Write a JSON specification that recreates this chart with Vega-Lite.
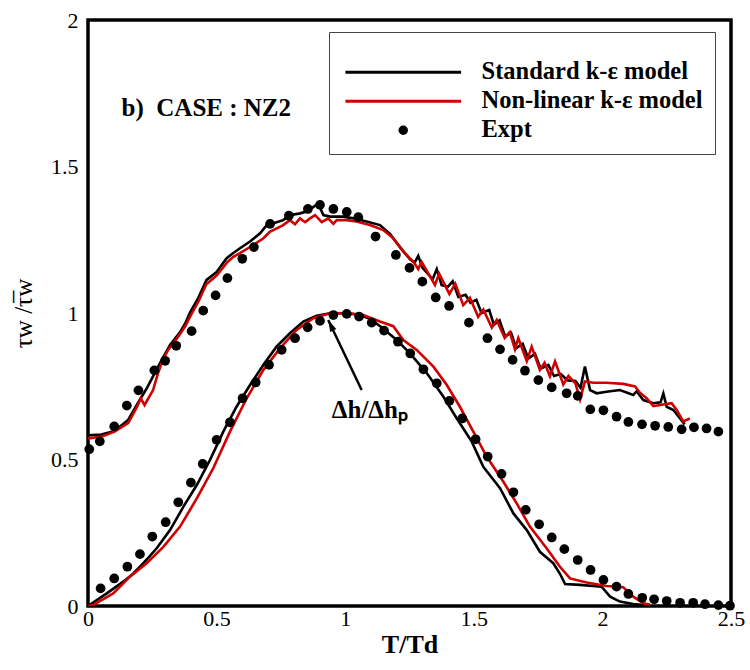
{
  "$schema": "https://vega.github.io/schema/vega-lite/v6.json",
  "width": 643,
  "height": 586,
  "autosize": {"type": "none"},
  "padding": {"left": 88, "top": 20, "right": 19, "bottom": 64},
  "background": "white",
  "config": {
    "font": "Liberation Serif",
    "view": {"stroke": "black", "strokeWidth": 3.5},
    "axis": {
      "domain": false,
      "grid": false,
      "ticks": false,
      "labelFont": "Liberation Serif",
      "labelFontSize": 22,
      "labelColor": "black",
      "labelFlush": false,
      "labelOverlap": false,
      "titleFont": "Liberation Serif",
      "titleColor": "black"
    }
  },
  "datasets": {
    "lines": [
      {"s": "Standard k-ε model", "c": "u", "x": 0, "y": 0.583},
      {"s": "Standard k-ε model", "c": "u", "x": 0.052, "y": 0.585},
      {"s": "Standard k-ε model", "c": "u", "x": 0.103, "y": 0.597},
      {"s": "Standard k-ε model", "c": "u", "x": 0.156, "y": 0.635},
      {"s": "Standard k-ε model", "c": "u", "x": 0.201, "y": 0.703},
      {"s": "Standard k-ε model", "c": "u", "x": 0.23, "y": 0.745},
      {"s": "Standard k-ε model", "c": "u", "x": 0.259, "y": 0.794},
      {"s": "Standard k-ε model", "c": "u", "x": 0.29, "y": 0.845},
      {"s": "Standard k-ε model", "c": "u", "x": 0.319, "y": 0.891},
      {"s": "Standard k-ε model", "c": "u", "x": 0.358, "y": 0.935},
      {"s": "Standard k-ε model", "c": "u", "x": 0.38, "y": 0.968},
      {"s": "Standard k-ε model", "c": "u", "x": 0.397, "y": 1.002},
      {"s": "Standard k-ε model", "c": "u", "x": 0.429, "y": 1.052},
      {"s": "Standard k-ε model", "c": "u", "x": 0.461, "y": 1.113},
      {"s": "Standard k-ε model", "c": "u", "x": 0.5, "y": 1.14},
      {"s": "Standard k-ε model", "c": "u", "x": 0.539, "y": 1.187},
      {"s": "Standard k-ε model", "c": "u", "x": 0.565, "y": 1.205},
      {"s": "Standard k-ε model", "c": "u", "x": 0.591, "y": 1.221},
      {"s": "Standard k-ε model", "c": "u", "x": 0.63, "y": 1.244},
      {"s": "Standard k-ε model", "c": "u", "x": 0.669, "y": 1.272},
      {"s": "Standard k-ε model", "c": "u", "x": 0.695, "y": 1.3},
      {"s": "Standard k-ε model", "c": "u", "x": 0.721, "y": 1.306},
      {"s": "Standard k-ε model", "c": "u", "x": 0.759, "y": 1.317},
      {"s": "Standard k-ε model", "c": "u", "x": 0.785, "y": 1.334},
      {"s": "Standard k-ε model", "c": "u", "x": 0.824, "y": 1.34},
      {"s": "Standard k-ε model", "c": "u", "x": 0.85, "y": 1.346},
      {"s": "Standard k-ε model", "c": "u", "x": 0.869, "y": 1.357},
      {"s": "Standard k-ε model", "c": "u", "x": 0.895, "y": 1.374},
      {"s": "Standard k-ε model", "c": "u", "x": 0.915, "y": 1.334},
      {"s": "Standard k-ε model", "c": "u", "x": 0.941, "y": 1.329},
      {"s": "Standard k-ε model", "c": "u", "x": 0.993, "y": 1.329},
      {"s": "Standard k-ε model", "c": "u", "x": 1.032, "y": 1.323},
      {"s": "Standard k-ε model", "c": "u", "x": 1.083, "y": 1.312},
      {"s": "Standard k-ε model", "c": "u", "x": 1.135, "y": 1.3},
      {"s": "Standard k-ε model", "c": "u", "x": 1.174, "y": 1.27},
      {"s": "Standard k-ε model", "c": "u", "x": 1.213, "y": 1.225},
      {"s": "Standard k-ε model", "c": "u", "x": 1.252, "y": 1.183},
      {"s": "Standard k-ε model", "c": "u", "x": 1.27, "y": 1.172},
      {"s": "Standard k-ε model", "c": "u", "x": 1.284, "y": 1.195},
      {"s": "Standard k-ε model", "c": "u", "x": 1.3, "y": 1.155},
      {"s": "Standard k-ε model", "c": "u", "x": 1.34, "y": 1.115},
      {"s": "Standard k-ε model", "c": "u", "x": 1.356, "y": 1.15},
      {"s": "Standard k-ε model", "c": "u", "x": 1.375, "y": 1.095},
      {"s": "Standard k-ε model", "c": "u", "x": 1.4, "y": 1.09},
      {"s": "Standard k-ε model", "c": "u", "x": 1.418, "y": 1.108},
      {"s": "Standard k-ε model", "c": "u", "x": 1.44, "y": 1.055},
      {"s": "Standard k-ε model", "c": "u", "x": 1.468, "y": 1.062},
      {"s": "Standard k-ε model", "c": "u", "x": 1.487, "y": 1.035},
      {"s": "Standard k-ε model", "c": "u", "x": 1.51, "y": 1.045},
      {"s": "Standard k-ε model", "c": "u", "x": 1.53, "y": 1.0},
      {"s": "Standard k-ε model", "c": "u", "x": 1.56, "y": 1.01},
      {"s": "Standard k-ε model", "c": "u", "x": 1.578, "y": 0.96},
      {"s": "Standard k-ε model", "c": "u", "x": 1.6, "y": 0.975},
      {"s": "Standard k-ε model", "c": "u", "x": 1.622, "y": 0.92},
      {"s": "Standard k-ε model", "c": "u", "x": 1.645, "y": 0.932},
      {"s": "Standard k-ε model", "c": "u", "x": 1.665, "y": 0.88},
      {"s": "Standard k-ε model", "c": "u", "x": 1.69, "y": 0.895},
      {"s": "Standard k-ε model", "c": "u", "x": 1.712, "y": 0.845},
      {"s": "Standard k-ε model", "c": "u", "x": 1.738, "y": 0.86},
      {"s": "Standard k-ε model", "c": "u", "x": 1.76, "y": 0.81},
      {"s": "Standard k-ε model", "c": "u", "x": 1.79, "y": 0.823},
      {"s": "Standard k-ε model", "c": "u", "x": 1.812, "y": 0.785},
      {"s": "Standard k-ε model", "c": "u", "x": 1.838, "y": 0.792},
      {"s": "Standard k-ε model", "c": "u", "x": 1.865, "y": 0.77},
      {"s": "Standard k-ε model", "c": "u", "x": 1.895, "y": 0.768},
      {"s": "Standard k-ε model", "c": "u", "x": 1.915, "y": 0.745},
      {"s": "Standard k-ε model", "c": "u", "x": 1.932, "y": 0.817},
      {"s": "Standard k-ε model", "c": "u", "x": 1.952, "y": 0.737},
      {"s": "Standard k-ε model", "c": "u", "x": 1.978, "y": 0.726},
      {"s": "Standard k-ε model", "c": "u", "x": 2.016, "y": 0.731},
      {"s": "Standard k-ε model", "c": "u", "x": 2.068, "y": 0.737},
      {"s": "Standard k-ε model", "c": "u", "x": 2.12, "y": 0.72},
      {"s": "Standard k-ε model", "c": "u", "x": 2.133, "y": 0.733},
      {"s": "Standard k-ε model", "c": "u", "x": 2.159, "y": 0.703},
      {"s": "Standard k-ε model", "c": "u", "x": 2.198, "y": 0.692},
      {"s": "Standard k-ε model", "c": "u", "x": 2.226, "y": 0.695},
      {"s": "Standard k-ε model", "c": "u", "x": 2.237, "y": 0.725},
      {"s": "Standard k-ε model", "c": "u", "x": 2.25, "y": 0.68},
      {"s": "Standard k-ε model", "c": "u", "x": 2.276, "y": 0.669},
      {"s": "Standard k-ε model", "c": "u", "x": 2.302, "y": 0.64},
      {"s": "Standard k-ε model", "c": "u", "x": 2.32, "y": 0.62},

      {"s": "Non-linear k-ε model", "c": "u", "x": 0, "y": 0.572},
      {"s": "Non-linear k-ε model", "c": "u", "x": 0.052, "y": 0.578},
      {"s": "Non-linear k-ε model", "c": "u", "x": 0.103, "y": 0.595},
      {"s": "Non-linear k-ε model", "c": "u", "x": 0.156, "y": 0.624},
      {"s": "Non-linear k-ε model", "c": "u", "x": 0.188, "y": 0.675},
      {"s": "Non-linear k-ε model", "c": "u", "x": 0.205, "y": 0.709},
      {"s": "Non-linear k-ε model", "c": "u", "x": 0.22, "y": 0.686},
      {"s": "Non-linear k-ε model", "c": "u", "x": 0.253, "y": 0.737},
      {"s": "Non-linear k-ε model", "c": "u", "x": 0.272, "y": 0.794},
      {"s": "Non-linear k-ε model", "c": "u", "x": 0.29, "y": 0.838},
      {"s": "Non-linear k-ε model", "c": "u", "x": 0.312, "y": 0.875},
      {"s": "Non-linear k-ε model", "c": "u", "x": 0.335, "y": 0.9},
      {"s": "Non-linear k-ε model", "c": "u", "x": 0.358, "y": 0.928},
      {"s": "Non-linear k-ε model", "c": "u", "x": 0.38, "y": 0.958},
      {"s": "Non-linear k-ε model", "c": "u", "x": 0.4, "y": 0.993},
      {"s": "Non-linear k-ε model", "c": "u", "x": 0.43, "y": 1.04},
      {"s": "Non-linear k-ε model", "c": "u", "x": 0.46, "y": 1.098},
      {"s": "Non-linear k-ε model", "c": "u", "x": 0.5, "y": 1.128},
      {"s": "Non-linear k-ε model", "c": "u", "x": 0.54, "y": 1.172},
      {"s": "Non-linear k-ε model", "c": "u", "x": 0.565, "y": 1.192},
      {"s": "Non-linear k-ε model", "c": "u", "x": 0.591, "y": 1.204},
      {"s": "Non-linear k-ε model", "c": "u", "x": 0.643, "y": 1.232},
      {"s": "Non-linear k-ε model", "c": "u", "x": 0.682, "y": 1.255},
      {"s": "Non-linear k-ε model", "c": "u", "x": 0.708, "y": 1.278},
      {"s": "Non-linear k-ε model", "c": "u", "x": 0.734, "y": 1.289},
      {"s": "Non-linear k-ε model", "c": "u", "x": 0.759, "y": 1.3},
      {"s": "Non-linear k-ε model", "c": "u", "x": 0.785, "y": 1.317},
      {"s": "Non-linear k-ε model", "c": "u", "x": 0.805, "y": 1.303},
      {"s": "Non-linear k-ε model", "c": "u", "x": 0.824, "y": 1.323},
      {"s": "Non-linear k-ε model", "c": "u", "x": 0.844, "y": 1.31},
      {"s": "Non-linear k-ε model", "c": "u", "x": 0.863, "y": 1.323},
      {"s": "Non-linear k-ε model", "c": "u", "x": 0.883, "y": 1.334},
      {"s": "Non-linear k-ε model", "c": "u", "x": 0.909, "y": 1.31},
      {"s": "Non-linear k-ε model", "c": "u", "x": 0.934, "y": 1.323},
      {"s": "Non-linear k-ε model", "c": "u", "x": 0.954, "y": 1.304},
      {"s": "Non-linear k-ε model", "c": "u", "x": 0.967, "y": 1.317},
      {"s": "Non-linear k-ε model", "c": "u", "x": 1.006, "y": 1.317},
      {"s": "Non-linear k-ε model", "c": "u", "x": 1.044, "y": 1.312},
      {"s": "Non-linear k-ε model", "c": "u", "x": 1.096, "y": 1.3},
      {"s": "Non-linear k-ε model", "c": "u", "x": 1.148, "y": 1.283},
      {"s": "Non-linear k-ε model", "c": "u", "x": 1.187, "y": 1.255},
      {"s": "Non-linear k-ε model", "c": "u", "x": 1.226, "y": 1.209},
      {"s": "Non-linear k-ε model", "c": "u", "x": 1.265, "y": 1.175},
      {"s": "Non-linear k-ε model", "c": "u", "x": 1.284, "y": 1.15},
      {"s": "Non-linear k-ε model", "c": "u", "x": 1.297, "y": 1.175},
      {"s": "Non-linear k-ε model", "c": "u", "x": 1.349, "y": 1.096},
      {"s": "Non-linear k-ε model", "c": "u", "x": 1.365, "y": 1.135},
      {"s": "Non-linear k-ε model", "c": "u", "x": 1.405, "y": 1.065},
      {"s": "Non-linear k-ε model", "c": "u", "x": 1.428, "y": 1.1},
      {"s": "Non-linear k-ε model", "c": "u", "x": 1.459, "y": 1.027},
      {"s": "Non-linear k-ε model", "c": "u", "x": 1.485, "y": 1.052},
      {"s": "Non-linear k-ε model", "c": "u", "x": 1.517, "y": 0.987},
      {"s": "Non-linear k-ε model", "c": "u", "x": 1.537, "y": 1.012},
      {"s": "Non-linear k-ε model", "c": "u", "x": 1.57, "y": 0.95},
      {"s": "Non-linear k-ε model", "c": "u", "x": 1.589, "y": 0.976},
      {"s": "Non-linear k-ε model", "c": "u", "x": 1.62, "y": 0.915},
      {"s": "Non-linear k-ε model", "c": "u", "x": 1.64, "y": 0.935},
      {"s": "Non-linear k-ε model", "c": "u", "x": 1.66, "y": 0.876},
      {"s": "Non-linear k-ε model", "c": "u", "x": 1.673, "y": 0.914},
      {"s": "Non-linear k-ε model", "c": "u", "x": 1.706, "y": 0.836},
      {"s": "Non-linear k-ε model", "c": "u", "x": 1.725, "y": 0.885},
      {"s": "Non-linear k-ε model", "c": "u", "x": 1.757, "y": 0.806},
      {"s": "Non-linear k-ε model", "c": "u", "x": 1.775, "y": 0.83},
      {"s": "Non-linear k-ε model", "c": "u", "x": 1.796, "y": 0.784},
      {"s": "Non-linear k-ε model", "c": "u", "x": 1.816, "y": 0.835},
      {"s": "Non-linear k-ε model", "c": "u", "x": 1.848, "y": 0.756},
      {"s": "Non-linear k-ε model", "c": "u", "x": 1.868, "y": 0.785},
      {"s": "Non-linear k-ε model", "c": "u", "x": 1.895, "y": 0.76},
      {"s": "Non-linear k-ε model", "c": "u", "x": 1.913, "y": 0.705},
      {"s": "Non-linear k-ε model", "c": "u", "x": 1.932, "y": 0.766},
      {"s": "Non-linear k-ε model", "c": "u", "x": 1.965, "y": 0.762},
      {"s": "Non-linear k-ε model", "c": "u", "x": 2.016, "y": 0.762},
      {"s": "Non-linear k-ε model", "c": "u", "x": 2.081, "y": 0.758},
      {"s": "Non-linear k-ε model", "c": "u", "x": 2.127, "y": 0.749},
      {"s": "Non-linear k-ε model", "c": "u", "x": 2.146, "y": 0.728},
      {"s": "Non-linear k-ε model", "c": "u", "x": 2.172, "y": 0.709},
      {"s": "Non-linear k-ε model", "c": "u", "x": 2.198, "y": 0.682},
      {"s": "Non-linear k-ε model", "c": "u", "x": 2.224, "y": 0.686},
      {"s": "Non-linear k-ε model", "c": "u", "x": 2.269, "y": 0.692},
      {"s": "Non-linear k-ε model", "c": "u", "x": 2.289, "y": 0.669},
      {"s": "Non-linear k-ε model", "c": "u", "x": 2.314, "y": 0.63},
      {"s": "Non-linear k-ε model", "c": "u", "x": 2.34, "y": 0.64},

      {"s": "Standard k-ε model", "c": "l", "x": 0, "y": 0.0},
      {"s": "Standard k-ε model", "c": "l", "x": 0.02, "y": 0.012},
      {"s": "Standard k-ε model", "c": "l", "x": 0.073, "y": 0.043},
      {"s": "Standard k-ε model", "c": "l", "x": 0.137, "y": 0.083},
      {"s": "Standard k-ε model", "c": "l", "x": 0.175, "y": 0.11},
      {"s": "Standard k-ε model", "c": "l", "x": 0.202, "y": 0.134},
      {"s": "Standard k-ε model", "c": "l", "x": 0.235, "y": 0.165},
      {"s": "Standard k-ε model", "c": "l", "x": 0.267, "y": 0.197},
      {"s": "Standard k-ε model", "c": "l", "x": 0.319, "y": 0.259},
      {"s": "Standard k-ε model", "c": "l", "x": 0.371, "y": 0.339},
      {"s": "Standard k-ε model", "c": "l", "x": 0.423, "y": 0.413},
      {"s": "Standard k-ε model", "c": "l", "x": 0.474, "y": 0.498},
      {"s": "Standard k-ε model", "c": "l", "x": 0.526, "y": 0.595},
      {"s": "Standard k-ε model", "c": "l", "x": 0.578, "y": 0.681},
      {"s": "Standard k-ε model", "c": "l", "x": 0.63, "y": 0.754},
      {"s": "Standard k-ε model", "c": "l", "x": 0.682, "y": 0.823},
      {"s": "Standard k-ε model", "c": "l", "x": 0.733, "y": 0.885},
      {"s": "Standard k-ε model", "c": "l", "x": 0.785, "y": 0.931},
      {"s": "Standard k-ε model", "c": "l", "x": 0.837, "y": 0.971},
      {"s": "Standard k-ε model", "c": "l", "x": 0.889, "y": 0.991},
      {"s": "Standard k-ε model", "c": "l", "x": 0.941, "y": 0.999},
      {"s": "Standard k-ε model", "c": "l", "x": 1.006, "y": 0.999},
      {"s": "Standard k-ε model", "c": "l", "x": 1.058, "y": 0.993},
      {"s": "Standard k-ε model", "c": "l", "x": 1.096, "y": 0.98},
      {"s": "Standard k-ε model", "c": "l", "x": 1.14, "y": 0.952},
      {"s": "Standard k-ε model", "c": "l", "x": 1.2, "y": 0.908},
      {"s": "Standard k-ε model", "c": "l", "x": 1.252, "y": 0.862},
      {"s": "Standard k-ε model", "c": "l", "x": 1.317, "y": 0.795},
      {"s": "Standard k-ε model", "c": "l", "x": 1.382, "y": 0.714},
      {"s": "Standard k-ε model", "c": "l", "x": 1.434, "y": 0.64},
      {"s": "Standard k-ε model", "c": "l", "x": 1.492, "y": 0.561},
      {"s": "Standard k-ε model", "c": "l", "x": 1.537, "y": 0.475},
      {"s": "Standard k-ε model", "c": "l", "x": 1.602, "y": 0.402},
      {"s": "Standard k-ε model", "c": "l", "x": 1.654, "y": 0.316},
      {"s": "Standard k-ε model", "c": "l", "x": 1.706, "y": 0.259},
      {"s": "Standard k-ε model", "c": "l", "x": 1.757, "y": 0.185},
      {"s": "Standard k-ε model", "c": "l", "x": 1.809, "y": 0.146},
      {"s": "Standard k-ε model", "c": "l", "x": 1.835, "y": 0.11},
      {"s": "Standard k-ε model", "c": "l", "x": 1.855, "y": 0.075},
      {"s": "Standard k-ε model", "c": "l", "x": 1.913, "y": 0.072},
      {"s": "Standard k-ε model", "c": "l", "x": 1.997, "y": 0.066},
      {"s": "Standard k-ε model", "c": "l", "x": 2.03, "y": 0.032},
      {"s": "Standard k-ε model", "c": "l", "x": 2.068, "y": 0.015},
      {"s": "Standard k-ε model", "c": "l", "x": 2.12, "y": 0.007},
      {"s": "Standard k-ε model", "c": "l", "x": 2.172, "y": 0.002},

      {"s": "Non-linear k-ε model", "c": "l", "x": 0, "y": 0.0},
      {"s": "Non-linear k-ε model", "c": "l", "x": 0.021, "y": 0.004},
      {"s": "Non-linear k-ε model", "c": "l", "x": 0.098, "y": 0.043},
      {"s": "Non-linear k-ε model", "c": "l", "x": 0.163, "y": 0.1},
      {"s": "Non-linear k-ε model", "c": "l", "x": 0.228, "y": 0.146},
      {"s": "Non-linear k-ε model", "c": "l", "x": 0.293, "y": 0.202},
      {"s": "Non-linear k-ε model", "c": "l", "x": 0.358, "y": 0.271},
      {"s": "Non-linear k-ε model", "c": "l", "x": 0.423, "y": 0.367},
      {"s": "Non-linear k-ε model", "c": "l", "x": 0.487, "y": 0.47},
      {"s": "Non-linear k-ε model", "c": "l", "x": 0.552, "y": 0.595},
      {"s": "Non-linear k-ε model", "c": "l", "x": 0.617, "y": 0.709},
      {"s": "Non-linear k-ε model", "c": "l", "x": 0.682, "y": 0.806},
      {"s": "Non-linear k-ε model", "c": "l", "x": 0.747, "y": 0.88},
      {"s": "Non-linear k-ε model", "c": "l", "x": 0.811, "y": 0.942},
      {"s": "Non-linear k-ε model", "c": "l", "x": 0.876, "y": 0.982},
      {"s": "Non-linear k-ε model", "c": "l", "x": 0.941, "y": 0.999},
      {"s": "Non-linear k-ε model", "c": "l", "x": 1.006, "y": 1.0},
      {"s": "Non-linear k-ε model", "c": "l", "x": 1.07, "y": 0.993},
      {"s": "Non-linear k-ε model", "c": "l", "x": 1.135, "y": 0.971},
      {"s": "Non-linear k-ε model", "c": "l", "x": 1.187, "y": 0.955},
      {"s": "Non-linear k-ε model", "c": "l", "x": 1.226, "y": 0.908},
      {"s": "Non-linear k-ε model", "c": "l", "x": 1.278, "y": 0.874},
      {"s": "Non-linear k-ε model", "c": "l", "x": 1.343, "y": 0.817},
      {"s": "Non-linear k-ε model", "c": "l", "x": 1.395, "y": 0.754},
      {"s": "Non-linear k-ε model", "c": "l", "x": 1.446, "y": 0.68},
      {"s": "Non-linear k-ε model", "c": "l", "x": 1.498, "y": 0.595},
      {"s": "Non-linear k-ε model", "c": "l", "x": 1.55, "y": 0.51},
      {"s": "Non-linear k-ε model", "c": "l", "x": 1.615, "y": 0.424},
      {"s": "Non-linear k-ε model", "c": "l", "x": 1.667, "y": 0.35},
      {"s": "Non-linear k-ε model", "c": "l", "x": 1.718, "y": 0.271},
      {"s": "Non-linear k-ε model", "c": "l", "x": 1.783, "y": 0.197},
      {"s": "Non-linear k-ε model", "c": "l", "x": 1.835, "y": 0.134},
      {"s": "Non-linear k-ε model", "c": "l", "x": 1.874, "y": 0.094},
      {"s": "Non-linear k-ε model", "c": "l", "x": 1.939, "y": 0.08},
      {"s": "Non-linear k-ε model", "c": "l", "x": 2.016, "y": 0.068},
      {"s": "Non-linear k-ε model", "c": "l", "x": 2.081, "y": 0.064},
      {"s": "Non-linear k-ε model", "c": "l", "x": 2.12, "y": 0.032},
      {"s": "Non-linear k-ε model", "c": "l", "x": 2.159, "y": 0.009},
      {"s": "Non-linear k-ε model", "c": "l", "x": 2.185, "y": 0.005}
    ],
    "expt": [
      {"s": "Expt", "x": 0.005, "y": 0.535},
      {"s": "Expt", "x": 0.046, "y": 0.562},
      {"s": "Expt", "x": 0.102, "y": 0.613},
      {"s": "Expt", "x": 0.151, "y": 0.684},
      {"s": "Expt", "x": 0.196, "y": 0.736},
      {"s": "Expt", "x": 0.258, "y": 0.804},
      {"s": "Expt", "x": 0.3, "y": 0.837},
      {"s": "Expt", "x": 0.343, "y": 0.888},
      {"s": "Expt", "x": 0.403, "y": 0.938},
      {"s": "Expt", "x": 0.448, "y": 1.008},
      {"s": "Expt", "x": 0.496, "y": 1.06},
      {"s": "Expt", "x": 0.542, "y": 1.119},
      {"s": "Expt", "x": 0.6, "y": 1.185},
      {"s": "Expt", "x": 0.645, "y": 1.225},
      {"s": "Expt", "x": 0.708, "y": 1.304},
      {"s": "Expt", "x": 0.781, "y": 1.332},
      {"s": "Expt", "x": 0.855, "y": 1.355},
      {"s": "Expt", "x": 0.902, "y": 1.369},
      {"s": "Expt", "x": 0.954, "y": 1.355},
      {"s": "Expt", "x": 1.006, "y": 1.345},
      {"s": "Expt", "x": 1.051, "y": 1.327},
      {"s": "Expt", "x": 1.118, "y": 1.261},
      {"s": "Expt", "x": 1.197, "y": 1.198},
      {"s": "Expt", "x": 1.25, "y": 1.154},
      {"s": "Expt", "x": 1.3, "y": 1.107},
      {"s": "Expt", "x": 1.352, "y": 1.053},
      {"s": "Expt", "x": 1.404, "y": 1.024},
      {"s": "Expt", "x": 1.481, "y": 0.967},
      {"s": "Expt", "x": 1.553, "y": 0.914},
      {"s": "Expt", "x": 1.602, "y": 0.876},
      {"s": "Expt", "x": 1.651, "y": 0.84},
      {"s": "Expt", "x": 1.699, "y": 0.803},
      {"s": "Expt", "x": 1.751, "y": 0.771},
      {"s": "Expt", "x": 1.803, "y": 0.746},
      {"s": "Expt", "x": 1.861, "y": 0.726},
      {"s": "Expt", "x": 1.904, "y": 0.717},
      {"s": "Expt", "x": 1.953, "y": 0.671},
      {"s": "Expt", "x": 2.004, "y": 0.668},
      {"s": "Expt", "x": 2.055, "y": 0.646},
      {"s": "Expt", "x": 2.101, "y": 0.628},
      {"s": "Expt", "x": 2.154, "y": 0.62},
      {"s": "Expt", "x": 2.205, "y": 0.615},
      {"s": "Expt", "x": 2.256, "y": 0.611},
      {"s": "Expt", "x": 2.308, "y": 0.603},
      {"s": "Expt", "x": 2.356, "y": 0.61},
      {"s": "Expt", "x": 2.405, "y": 0.606},
      {"s": "Expt", "x": 2.451, "y": 0.595},
      {"s": "Expt", "x": 0.049, "y": 0.06},
      {"s": "Expt", "x": 0.102, "y": 0.094},
      {"s": "Expt", "x": 0.153, "y": 0.134},
      {"s": "Expt", "x": 0.202, "y": 0.177},
      {"s": "Expt", "x": 0.25, "y": 0.237},
      {"s": "Expt", "x": 0.302, "y": 0.286},
      {"s": "Expt", "x": 0.351, "y": 0.354},
      {"s": "Expt", "x": 0.4, "y": 0.421},
      {"s": "Expt", "x": 0.446, "y": 0.485},
      {"s": "Expt", "x": 0.5, "y": 0.567},
      {"s": "Expt", "x": 0.552, "y": 0.627},
      {"s": "Expt", "x": 0.601, "y": 0.709},
      {"s": "Expt", "x": 0.652, "y": 0.763},
      {"s": "Expt", "x": 0.704, "y": 0.823},
      {"s": "Expt", "x": 0.753, "y": 0.874},
      {"s": "Expt", "x": 0.805, "y": 0.914},
      {"s": "Expt", "x": 0.854, "y": 0.951},
      {"s": "Expt", "x": 0.902, "y": 0.973},
      {"s": "Expt", "x": 0.954, "y": 0.993},
      {"s": "Expt", "x": 1.006, "y": 0.997},
      {"s": "Expt", "x": 1.054, "y": 0.988},
      {"s": "Expt", "x": 1.103, "y": 0.967},
      {"s": "Expt", "x": 1.151, "y": 0.94},
      {"s": "Expt", "x": 1.205, "y": 0.902},
      {"s": "Expt", "x": 1.253, "y": 0.862},
      {"s": "Expt", "x": 1.304, "y": 0.808},
      {"s": "Expt", "x": 1.356, "y": 0.76},
      {"s": "Expt", "x": 1.405, "y": 0.7},
      {"s": "Expt", "x": 1.455, "y": 0.64},
      {"s": "Expt", "x": 1.507, "y": 0.569},
      {"s": "Expt", "x": 1.554, "y": 0.51},
      {"s": "Expt", "x": 1.608, "y": 0.451},
      {"s": "Expt", "x": 1.654, "y": 0.388},
      {"s": "Expt", "x": 1.702, "y": 0.328},
      {"s": "Expt", "x": 1.754, "y": 0.279},
      {"s": "Expt", "x": 1.803, "y": 0.234},
      {"s": "Expt", "x": 1.852, "y": 0.194},
      {"s": "Expt", "x": 1.904, "y": 0.157},
      {"s": "Expt", "x": 1.954, "y": 0.123},
      {"s": "Expt", "x": 2.004, "y": 0.089},
      {"s": "Expt", "x": 2.055, "y": 0.066},
      {"s": "Expt", "x": 2.101, "y": 0.041},
      {"s": "Expt", "x": 2.155, "y": 0.028},
      {"s": "Expt", "x": 2.201, "y": 0.023},
      {"s": "Expt", "x": 2.25, "y": 0.017},
      {"s": "Expt", "x": 2.302, "y": 0.011},
      {"s": "Expt", "x": 2.353, "y": 0.011},
      {"s": "Expt", "x": 2.399, "y": 0.006},
      {"s": "Expt", "x": 2.451, "y": 0.003},
      {"s": "Expt", "x": 2.496, "y": 0.001}
    ],
    "notes": [
      {"t": "b)\u00a0\u00a0CASE : NZ2", "x": 0.46, "y": 1.70},
      {"t": "Δh/Δhₚ", "x": 1.096, "y": 0.669}
    ],
    "arrow": [
      {"x": 1.064, "y": 0.737, "x2": 0.934, "y2": 0.976}
    ],
    "xmajor": [{"v": 0.5}, {"v": 1}, {"v": 1.5}, {"v": 2}],
    "xminor": [{"v": 0.1}, {"v": 0.2}, {"v": 0.3}, {"v": 0.4}, {"v": 0.6}, {"v": 0.7}, {"v": 0.8}, {"v": 0.9}, {"v": 1.1}, {"v": 1.2}, {"v": 1.3}, {"v": 1.4}, {"v": 1.6}, {"v": 1.7}, {"v": 1.8}, {"v": 1.9}, {"v": 2.1}, {"v": 2.2}, {"v": 2.3}, {"v": 2.4}],
    "ymajor": [{"v": 0.5}, {"v": 1}, {"v": 1.5}],
    "yminor": [{"v": 0.1}, {"v": 0.2}, {"v": 0.3}, {"v": 0.4}, {"v": 0.6}, {"v": 0.7}, {"v": 0.8}, {"v": 0.9}, {"v": 1.1}, {"v": 1.2}, {"v": 1.3}, {"v": 1.4}, {"v": 1.6}, {"v": 1.7}, {"v": 1.8}, {"v": 1.9}]
  },
  "encoding": {
    "x": {
      "field": "x",
      "type": "quantitative",
      "scale": {"domain": [0, 2.5], "nice": false, "zero": false},
      "axis": {
        "title": "T/Td",
        "titleFontSize": 26,
        "titleFontWeight": "bold",
        "titlePadding": 2,
        "values": [0, 0.5, 1, 1.5, 2, 2.5],
        "labelExpr": "format(datum.value,'~g')",
        "labelPadding": 2
      }
    },
    "y": {
      "field": "y",
      "type": "quantitative",
      "scale": {"domain": [0, 2], "nice": false, "zero": false},
      "axis": {
        "title": "τw /τ̅w",
        "titleFontSize": 25,
        "titleFontWeight": "normal",
        "titlePadding": 14,
        "values": [0, 0.5, 1, 1.5, 2],
        "labelExpr": "format(datum.value,'~g')",
        "labelPadding": 10
      }
    }
  },
  "layer": [
    {
      "data": {"name": "xmajor"},
      "mark": {"type": "rule", "strokeWidth": 2.5, "color": "black", "opacity": 1},
      "encoding": {"x": {"field": "v", "type": "quantitative"}, "y": {"datum": 0}, "y2": {"datum": 0.04}}
    },
    {
      "data": {"name": "xminor"},
      "mark": {"type": "rule", "strokeWidth": 1.5, "color": "black", "opacity": 1},
      "encoding": {"x": {"field": "v", "type": "quantitative"}, "y": {"datum": 0}, "y2": {"datum": 0.021}}
    },
    {
      "data": {"name": "ymajor"},
      "mark": {"type": "rule", "strokeWidth": 2.5, "color": "black", "opacity": 1},
      "encoding": {"y": {"field": "v", "type": "quantitative"}, "x": {"datum": 0}, "x2": {"datum": 0.046}}
    },
    {
      "data": {"name": "yminor"},
      "mark": {"type": "rule", "strokeWidth": 1.5, "color": "black", "opacity": 1},
      "encoding": {"y": {"field": "v", "type": "quantitative"}, "x": {"datum": 0}, "x2": {"datum": 0.024}}
    },
    {
      "data": {"name": "lines"},
      "mark": {"type": "line", "strokeWidth": 2.6, "clip": true},
      "encoding": {
        "detail": {"field": "c"},
        "color": {
          "field": "s",
          "type": "nominal",
          "scale": {"domain": ["Standard k-ε model", "Non-linear k-ε model", "Expt"], "range": ["black", "#d00000", "black"]},
          "legend": {
            "title": " ",
            "titleFontSize": 11,
            "titlePadding": 5,
            "orient": "none",
            "legendX": 241,
            "legendY": 12,
            "padding": 12,
            "strokeColor": "#444",
            "fillColor": "white",
            "labelFont": "Liberation Serif",
            "labelFontSize": 24.5,
            "labelFontWeight": "bold",
            "labelColor": "black",
            "labelLimit": 400,
            "symbolSize": 90,
            "symbolOffset": 50,
            "labelOffset": 66,
            "rowPadding": 4,
            "encode": {
              "symbols": {
                "update": {
                  "shape": {"signal": "datum.value === 'Expt' ? 'circle' : 'M-12.2,0H12.2'"},
                  "stroke": {"signal": "datum.value === 'Non-linear k-ε model' ? '#d00000' : 'black'"},
                  "strokeWidth": {"signal": "datum.value === 'Expt' ? 0 : 3"},
                  "fill": {"signal": "datum.value === 'Expt' ? 'black' : 'transparent'"},
                  "opacity": {"value": 1}
                }
              }
            }
          }
        }
      }
    },
    {
      "data": {"name": "expt"},
      "mark": {"type": "point", "filled": true, "size": 95, "opacity": 1, "clip": false},
      "encoding": {
        "color": {"field": "s", "type": "nominal"}
      }
    },
    {
      "data": {"name": "notes"},
      "mark": {"type": "text", "font": "Liberation Serif", "fontSize": 25, "fontWeight": "bold", "color": "black"},
      "encoding": {"text": {"field": "t"}}
    },
    {
      "data": {"name": "arrow"},
      "mark": {"type": "rule", "strokeWidth": 2.5, "color": "black"},
      "encoding": {
        "x2": {"field": "x2"},
        "y2": {"field": "y2"}
      }
    },
    {
      "data": {"name": "arrow"},
      "mark": {"type": "point", "shape": "M0,0L-0.55,1.9L0.55,1.9Z", "filled": true, "color": "black", "opacity": 1, "size": 150, "angle": 334.5},
      "encoding": {
        "x": {"field": "x2", "type": "quantitative"},
        "y": {"field": "y2", "type": "quantitative"}
      }
    }
  ]
}
